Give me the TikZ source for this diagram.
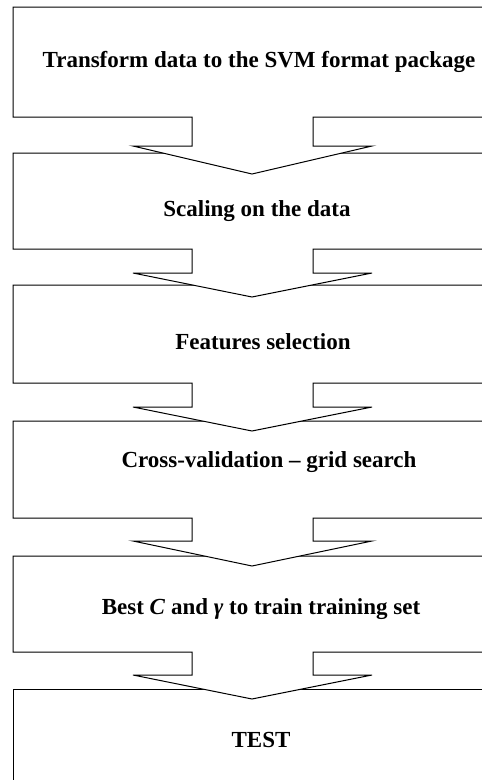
\documentclass[tikz,border=0pt]{standalone}
\usepackage{fontspec}
\setmainfont{Liberation Serif}
\usetikzlibrary{
    calc,
}

\begin{document}
\begin{tikzpicture}[x=1pt, y=-1pt, thick,
    stage/.style = {draw, fill=white, line width=1pt, line join=miter},
    label/.style = {font=\bfseries\fontsize{23}{27}\selectfont, inner sep=0pt}]
    \useasboundingbox (0,0) rectangle (482,780);
    \clip (0,0) rectangle (482,780);
    % stages, last one first so every arrow covers the box below it
    \draw[stage] (510,689) -- (13,689) -- (13,800) -- (510,800);
    \draw[stage] (510,556) -- (13,556) -- (13,652) -- (192,652) -- (192,675) -- (133,675) -- (252,699) -- (372,675) -- (313,675) -- (313,652) -- (510,652);
    \draw[stage] (510,421) -- (13,421) -- (13,518) -- (192,518) -- (192,541) -- (133,541) -- (252,566) -- (372,541) -- (313,541) -- (313,518) -- (510,518);
    \draw[stage] (510,285) -- (13,285) -- (13,383) -- (192,383) -- (192,407) -- (133,407) -- (252,431) -- (372,407) -- (313,407) -- (313,383) -- (510,383);
    \draw[stage] (510,153) -- (13,153) -- (13,249) -- (192,249) -- (192,273) -- (133,273) -- (252,297) -- (372,273) -- (313,273) -- (313,249) -- (510,249);
    \draw[stage] (510,7) -- (13,7) -- (13,117) -- (192,117) -- (192,146) -- (133,146) -- (252,174) -- (372,146) -- (313,146) -- (313,117) -- (510,117);
    % texts
    \node[label] (transform) at (259,62) {Transform data to the SVM format package};
    \node[label] (scaling) at (257,211) {Scaling on the data};
    \node[label] (features) at (263,342) {Features selection};
    \node[label] (crossval) at (269,462) {Cross-validation – grid search};
    \node[label] (best) at (261,609) {Best \textit{C} and \textit{γ} to train training set};
    \node[label] (test) at (261,740) {TEST};
\end{tikzpicture}
\end{document}
